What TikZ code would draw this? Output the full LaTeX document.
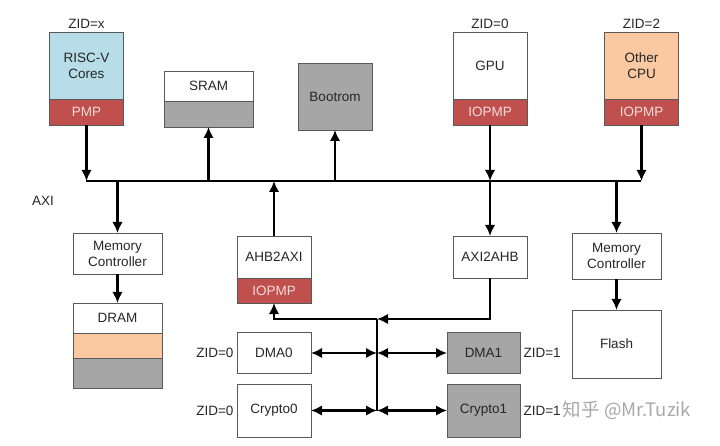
\documentclass[tikz,border=0pt]{standalone}
\usepackage{fontspec}
\setmainfont{Liberation Sans}
\newfontfamily\cjk{Noto Sans CJK SC}
\usetikzlibrary{arrows.meta}

\definecolor{pmpred}{HTML}{C0504D}
\definecolor{pmptext}{HTML}{F2DCDB}
\definecolor{coreblue}{HTML}{B7DEE8}
\definecolor{peach}{HTML}{FAC9A1}
\definecolor{memgray}{HTML}{A6A6A6}

\tikzset{
  blk/.style={draw=black!65, line width=0.8pt, inner sep=0pt, outer sep=0pt, align=center,
    minimum width=74pt, font=\fontsize{13.5}{16}\selectfont, text=black!85},
  grayblk/.style={blk, fill=memgray},
  pmpblk/.style={blk, fill=pmpred, text=pmptext},
  zid/.style={font=\fontsize{13.5}{16}\selectfont, text=black!85},
  wire/.style={line width=2.2pt},
}

\begin{document}
\begin{tikzpicture}[x=1pt, y=-1pt, >={Latex[length=11pt,width=10.5pt]}]
\useasboundingbox (0,0) rectangle (720,446);

% masters and memories on top
\node[blk, fill=coreblue, minimum height=67pt] (cpu) at (86.5,65.5) {RISC-V\\Cores};
\node[pmpblk, minimum height=26pt, anchor=north] (pmp) at (cpu.south) {PMP};
\node[zid, above] (zcpu) at (cpu.north) {ZID=x};

\node[blk, minimum width=89pt, minimum height=30pt] (sram) at (208.5,86) {SRAM};
\node[grayblk, minimum width=89pt, minimum height=26pt, anchor=north] (sramb) at (sram.south) {};

\node[grayblk, minimum height=67pt] (boot) at (335,96.5) {Bootrom};

\node[blk, minimum height=67pt] (gpu) at (490,65.5) {GPU};
\node[pmpblk, minimum height=26pt, anchor=north] (gpupmp) at (gpu.south) {IOPMP};
\node[zid, above] (zgpu) at (gpu.north) {ZID=0};

\node[blk, fill=peach, minimum height=67pt] (oth) at (641.5,65.5) {Other\\CPU};
\node[pmpblk, minimum height=26pt, anchor=north] (othpmp) at (oth.south) {IOPMP};
\node[zid, above] (zoth) at (oth.north) {ZID=2};

% AXI bus
\coordinate (busl) at (86,181);
\coordinate (busr) at (641,181);
\draw[wire] (busl) -- (busr);
\node[zid] (axi) at (43,201) {AXI};

\draw[wire,->] (pmp.south) -- (pmp.south |- busl);
\draw[wire,->] (sramb.south |- busl) -- (sramb.south);
\draw[wire,->] (boot.south |- busl) -- (boot.south);
\draw[wire,->] (gpupmp.south) -- (gpupmp.south |- busl);
\draw[wire,->] (othpmp.south) -- (othpmp.south |- busl);

% below the bus
\node[blk, minimum width=89pt, minimum height=41pt] (mcl) at (117.5,253.5) {Memory\\Controller};
\node[blk, minimum width=89pt, minimum height=30pt] (dram) at (117.5,318) {DRAM};
\node[blk, fill=peach, minimum width=89pt, minimum height=25pt, anchor=north] (dramm) at (dram.south) {};
\node[grayblk, minimum width=89pt, minimum height=30pt, anchor=north] (dramb) at (dramm.south) {};
\draw[wire,->] (mcl.north |- busl) -- (mcl.north);
\draw[wire,->] (mcl) -- (dram);

\node[blk, minimum height=42pt] (h2a) at (274,257) {AHB2AXI};
\node[pmpblk, minimum height=25pt, anchor=north] (h2apmp) at (h2a.south) {IOPMP};
\draw[wire,->] (h2a.north) -- (h2a.north |- busl);

\node[blk, minimum height=42pt] (a2h) at (490,257) {AXI2AHB};
\draw[wire,->] (a2h.north |- busl) -- (a2h.north);

\node[blk, minimum width=89pt, minimum height=46pt] (mcr) at (616.5,256) {Memory\\Controller};
\node[blk, minimum width=89pt, minimum height=68pt] (flash) at (616.5,344) {Flash};
\draw[wire,->] (mcr.north |- busl) -- (mcr.north);
\draw[wire,->] (mcr) -- (flash);

% AHB side
\node[blk, minimum height=41pt] (dma0) at (274,353) {DMA0};
\node[blk, minimum height=53pt] (cry0) at (274,410.5) {Crypto0};
\node[grayblk, minimum width=73pt, minimum height=41pt] (dma1) at (483.5,353) {DMA1};
\node[grayblk, minimum width=73pt, minimum height=53pt] (cry1) at (483.5,410.5) {Crypto1};
\node[zid, left] (zdma0) at (dma0.west) {ZID=0};
\node[zid, left] (zcry0) at (cry0.west) {ZID=0};
\node[zid, right] (zdma1) at (dma1.east) {ZID=1};
\node[zid, right] (zcry1) at (cry1.east) {ZID=1};

\coordinate (jt) at (377,319);
\coordinate (jb) at (377,410.5);
\draw[wire] (jt) -- (jb);
\draw[wire,->] (a2h.south) |- (jt);
\draw[wire,->] (jt) -| (h2apmp.south);
\draw[wire,<->] (dma0.east) -- (dma0.east -| jt);
\draw[wire,<->] (dma0.east -| jt) -- (dma1.west);
\draw[wire,<->] (cry0.east) -- (cry0.east -| jt);
\draw[wire,<->] (cry0.east -| jt) -- (cry1.west);

% watermark
\node[font=\cjk\fontsize{18.5}{22}\selectfont, text=black!38, opacity=0.9] (wm) at (627,410) {知乎 @Mr.Tuzik};
\end{tikzpicture}
\end{document}
